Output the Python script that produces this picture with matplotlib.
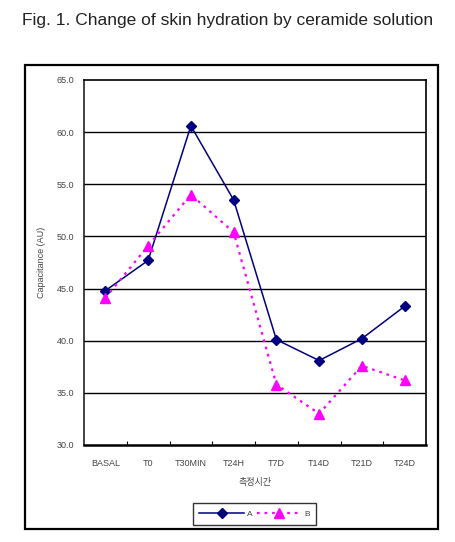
import matplotlib
matplotlib.use("Agg")
import matplotlib.pyplot as plt
from matplotlib.patches import Rectangle

categories = ["BASAL", "T0", "T30MIN", "T24H", "T7D", "T14D", "T21D", "T24D"]
series_a = [44.8, 47.7, 60.6, 53.5, 40.1, 38.1, 40.2, 43.3]
series_b = [44.1, 49.1, 54.0, 50.4, 35.8, 33.0, 37.6, 36.2]
y_ticks = [30.0, 35.0, 40.0, 45.0, 50.0, 55.0, 60.0, 65.0]

plt.rcParams['font.family'] = ['Liberation Sans', 'Noto Sans CJK KR', 'DejaVu Sans']

W, H = 455, 542
fig = plt.figure(figsize=(W / 100, H / 100), dpi=100)

# outer frame
fig.patches.append(Rectangle((25 / W, 1 - 529 / H), (438 - 25) / W, (529 - 65) / H,
                             transform=fig.transFigure, fill=False, edgecolor='black',
                             linewidth=1.6, zorder=0))

fig.text(228 / W, 1 - 21 / H, "Fig. 1. Change of skin hydration by ceramide solution",
         ha='center', va='center', fontsize=12.5, color='#222222')

ax = fig.add_axes([84 / W, 1 - 445 / H, 342 / W, 365 / H])
x = list(range(len(categories)))
ax.plot(x, series_a, color='#000080', linestyle='-', linewidth=1.1, marker='D',
        markersize=5.5, markerfacecolor='#000080', markeredgecolor='#000080', label='A', zorder=3)
ax.plot(x, series_b, color='#FF00FF', linestyle=(0, (1.2, 2.2)), linewidth=1.6, marker='^',
        markersize=7, markerfacecolor='#FF00FF', markeredgecolor='#FF00FF', label='B', zorder=3)

ax.set_xlim(-0.5, len(categories) - 0.5)
ax.set_ylim(30, 65)
ax.set_yticks(y_ticks)
ax.set_yticklabels([f"{v:.1f}" for v in y_ticks], fontsize=6.5, color='#444444')
ax.set_xticks(x)
ax.set_xticklabels(categories, fontsize=6.5, color='#444444')
ax.set_xticks([i + 0.5 for i in x[:-1]], minor=True)
ax.tick_params(axis='x', which='major', length=0, pad=10)
ax.tick_params(axis='x', which='minor', length=3, direction='in', width=0.8)
ax.tick_params(axis='y', length=0, pad=7)
for yv in y_ticks[1:-1]:
    ax.axhline(yv, color='black', linewidth=1.0, zorder=1)
for s in ax.spines.values():
    s.set_linewidth(1.2)
    s.set_color('black')
ax.spines['left'].set_color('#222222')
ax.spines['bottom'].set_linewidth(1.8)

ax.set_ylabel("Capacitance (AU)", fontsize=6.5, color='#444444', labelpad=8)
ax.set_xlabel("측정시간", fontsize=6.5, color='#444444', labelpad=7,
              family=['Noto Sans CJK KR', 'DejaVu Sans'])

leg = fig.legend(loc='center', bbox_to_anchor=(254.5 / W, 1 - 514 / H), ncol=2,
                 fontsize=6, frameon=True, fancybox=False, handlelength=5.4,
                 columnspacing=0.5, handletextpad=0.3, borderpad=0.8, borderaxespad=0)
leg.get_frame().set_edgecolor('black')
leg.get_frame().set_linewidth(1.0)
for t in leg.get_texts():
    t.set_color('#444444')

fig.savefig("out.png", dpi=100)
